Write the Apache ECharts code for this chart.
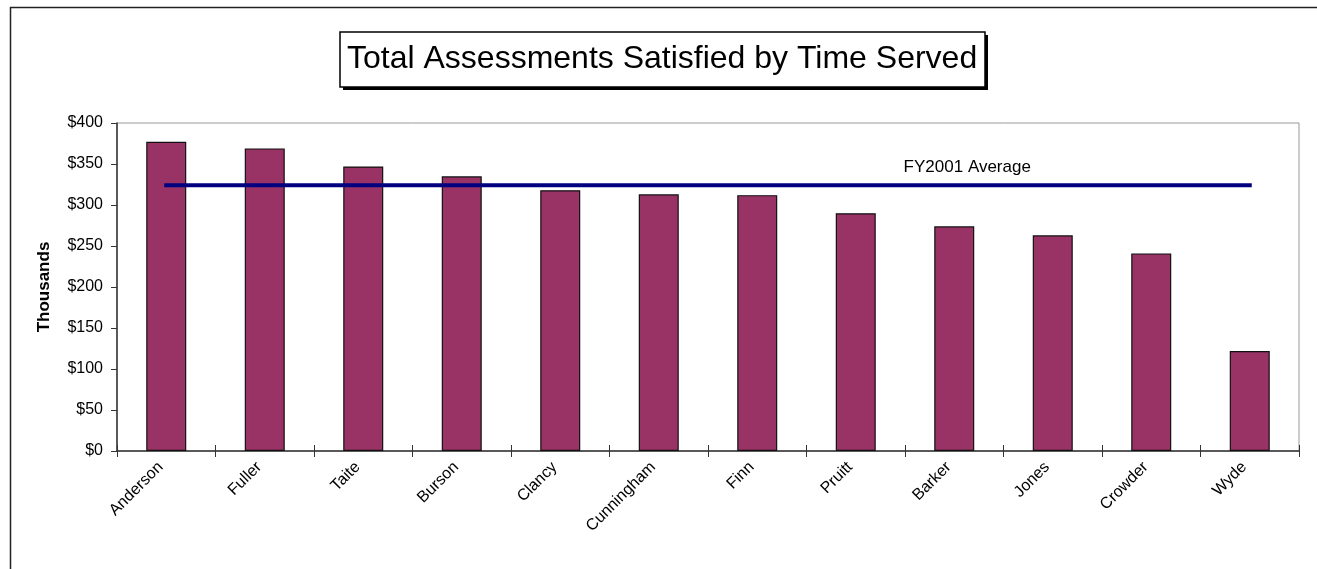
<!DOCTYPE html>
<html>
<head>
<meta charset="utf-8">
<script src="https://cdn.jsdelivr.net/npm/echarts@6/dist/echarts.min.js"></script>
<style>
html,body{margin:0;padding:0;background:#fff;}
#main{width:1317px;height:569px;}
</style>
</head>
<body>
<div id="main"></div>
<script>
const categories = ['Anderson','Fuller','Taite','Burson','Clancy','Cunningham','Finn','Pruitt','Barker','Jones','Crowder','Wyde'];
const assessments = [377, 369, 347, 335, 318, 313, 312, 290, 274, 263, 241, 122];
const averageValue = 324;
const averageLabel = 'FY2001 Average';
const averageLabelIndex = 8;
const yTicks = [0, 50, 100, 150, 200, 250, 300, 350, 400];

const averageData = categories.map(() => averageValue);
const font = '"Liberation Sans", Arial, sans-serif';

const chart = echarts.init(document.getElementById('main'), null, {renderer: 'canvas'});
chart.setOption({
  animation: false,
  backgroundColor: '#fff',
  title: {
    text: 'Total Assessments Satisfied by Time Served',
    left: 347,
    top: 43,
    padding: 0,
    z: 10,
    textStyle: {fontFamily: font, fontSize: 32, fontWeight: 'normal', color: '#000'}
  },
  graphic: [{
    type: 'polyline',
    shape: {points: [[10.5, 569], [10.5, 7.5], [1317, 7.5]]},
    style: {stroke: '#222', lineWidth: 1.5, fill: null},
    silent: true
  }, {
    type: 'rect',
    shape: {x: 343, y: 35, width: 645, height: 55},
    style: {fill: '#000'},
    z: 1,
    silent: true
  }, {
    type: 'rect',
    shape: {x: 340, y: 32, width: 645, height: 55},
    style: {fill: '#fff', stroke: '#000', lineWidth: 1.5},
    z: 2,
    silent: true
  }],
  grid: {
    left: 117, right: 18, top: 123, bottom: 118,
    show: true, borderColor: '#999', borderWidth: 1, backgroundColor: 'transparent'
  },
  xAxis: [{
    type: 'category',
    data: categories,
    boundaryGap: true,
    axisLine: {lineStyle: {color: '#333', width: 1.5}},
    axisTick: {show: true, alignWithLabel: false, length: 6, lineStyle: {color: '#333'}},
    axisLabel: {rotate: 45, margin: 8, padding: [0, 8, 0, 0], fontFamily: font, fontSize: 16, color: '#000', interval: 0}
  }, {
    type: 'category',
    data: categories,
    position: 'bottom',
    boundaryGap: true,
    axisLine: {show: false},
    axisTick: {show: true, inside: true, length: 6, lineStyle: {color: '#333'}},
    axisLabel: {show: false}
  }],
  yAxis: {
    type: 'value',
    min: yTicks[0],
    max: yTicks[yTicks.length - 1],
    interval: 50,
    name: 'Thousands',
    nameLocation: 'middle',
    nameGap: 64,
    nameTextStyle: {fontFamily: font, fontSize: 17, fontWeight: 'bold', color: '#000'},
    axisLine: {show: true, lineStyle: {color: '#333', width: 1.5}},
    axisTick: {show: true, length: 6, lineStyle: {color: '#333'}},
    splitLine: {show: false},
    axisLabel: {margin: 14, fontFamily: font, fontSize: 16, color: '#000', formatter: v => '$' + v}
  },
  series: [{
    type: 'bar',
    data: assessments,
    barWidth: 40,
    itemStyle: {color: '#993366', borderColor: '#111', borderWidth: 1.2},
    z: 2
  }, {
    type: 'line',
    data: averageData.map((v, i) => i === averageLabelIndex ? {
      value: v,
      label: {show: true, position: 'top', distance: 9, offset: [13, 0], formatter: averageLabel,
        fontFamily: font, fontSize: 17, color: '#000', opacity: 1}
    } : v),
    symbol: 'circle',
    symbolSize: 1,
    showSymbol: true,
    itemStyle: {color: 'rgba(0,0,0,0)', borderWidth: 0},
    lineStyle: {color: '#000080', width: 4, cap: 'square'},
    z: 3
  }]
});
</script>
</body>
</html>
